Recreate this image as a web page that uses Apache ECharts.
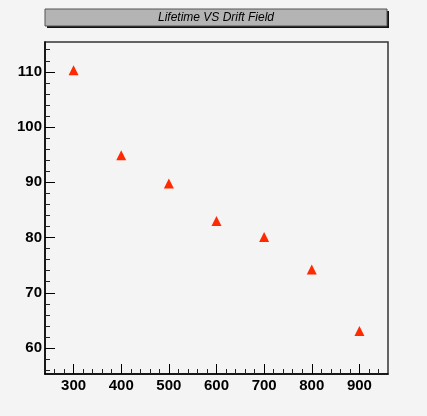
<!DOCTYPE html>
<html>
<head>
<meta charset="utf-8">
<script src="https://cdn.jsdelivr.net/npm/echarts@6/dist/echarts.min.js"></script>
<style>
  html, body { margin: 0; padding: 0; background: #f4f4f4; }
  #chart { width: 427px; height: 416px; }
</style>
</head>
<body>
<div id="chart"></div>
<script>
var field = [300, 400, 500, 600, 700, 800, 900]
var lifetime = [110.3, 94.9, 89.8, 83.0, 80.1, 74.2, 63.1]

var xMajor = [300, 400, 500, 600, 700, 800, 900]
var xMinor = [260, 280, 320, 340, 360, 380, 420, 440, 460, 480, 520, 540, 560, 580,
    620, 640, 660, 680, 720, 740, 760, 780, 820, 840, 860, 880, 920, 940]
var yMajor = [60, 70, 80, 90, 100, 110]
var yMinor = [56, 58, 62, 64, 66, 68, 72, 74, 76, 78, 82, 84, 86, 88,
    92, 94, 96, 98, 102, 104, 106, 108, 112, 114]

var font = "'Liberation Sans', Arial, sans-serif"

var chart = echarts.init(document.getElementById('chart'))

var majorAxis = function (min, max, ticks, pos) {
    return {
        type: 'value',
        position: pos,
        min: min,
        max: max,
        axisLine: { show: true, lineStyle: { color: '#000', width: 1.5 } },
        axisTick: { show: true, inside: true, length: 10, customValues: ticks, lineStyle: { color: '#000' } },
        axisLabel: {
            customValues: ticks,
            color: '#000',
            fontFamily: font,
            fontWeight: 'bold',
            fontSize: 15,
            margin: pos === 'left' ? 3 : 4
        },
        splitLine: { show: false }
    }
}

var minorAxis = function (min, max, ticks, pos) {
    return {
        type: 'value',
        position: pos,
        min: min,
        max: max,
        axisLine: { show: false },
        axisTick: { show: true, inside: true, length: 5, customValues: ticks, lineStyle: { color: '#222' } },
        axisLabel: { show: false },
        splitLine: { show: false }
    }
}

var option = {
    backgroundColor: '#f4f4f4',
    animation: false,
    grid: {
        left: 45, top: 42, width: 343, height: 332,
        show: true,
        backgroundColor: '#f4f4f4',
        borderColor: '#333',
        borderWidth: 1.5
    },
    graphic: [
        { type: 'rect', shape: { x: 47, y: 11, width: 342, height: 17 }, style: { fill: '#111' } },
        { type: 'rect', shape: { x: 45, y: 9, width: 342, height: 17 }, style: { fill: '#b4b4b4', stroke: '#555', lineWidth: 1 } },
        {
            type: 'text', x: 216, y: 18,
            style: {
                text: 'Lifetime VS Drift Field',
                fill: '#000',
                font: 'italic 12px ' + font,
                align: 'center',
                verticalAlign: 'middle'
            }
        }
    ],
    xAxis: [
        majorAxis(240, 960, xMajor, 'bottom'),
        minorAxis(240, 960, xMinor, 'bottom')
    ],
    yAxis: [
        majorAxis(55.3, 115.4, yMajor, 'left'),
        minorAxis(55.3, 115.4, yMinor, 'left')
    ],
    series: [{
        type: 'scatter',
        symbol: 'triangle',
        symbolSize: 10,
        itemStyle: { color: '#ff2a00', opacity: 1 },
        data: field.map(function (x, i) { return [x, lifetime[i]] })
    }]
}

chart.setOption(option)
</script>
</body>
</html>
